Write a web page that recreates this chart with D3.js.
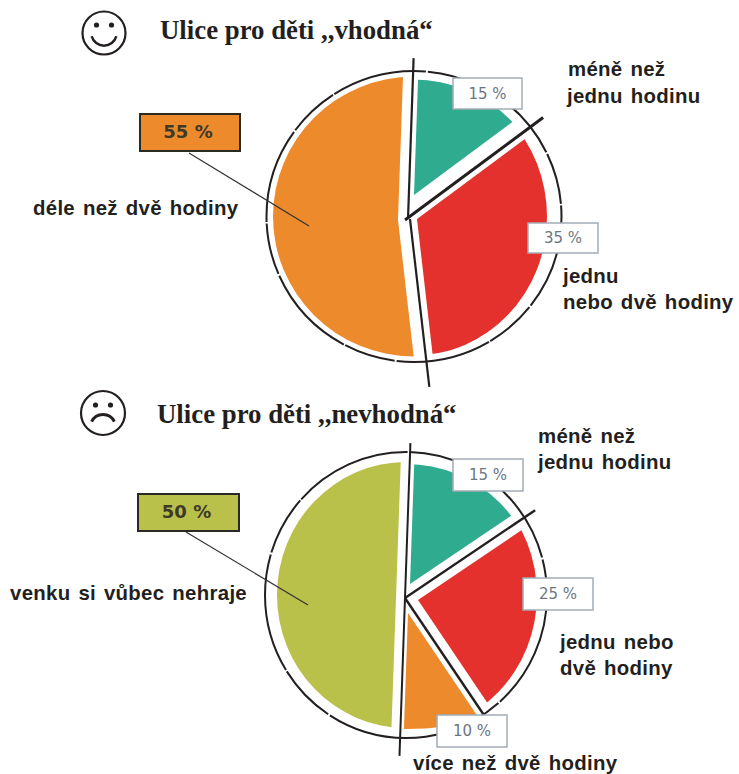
<!DOCTYPE html>
<html>
<head>
<meta charset="utf-8">
<script src="https://cdn.jsdelivr.net/npm/d3@7"></script>
<style>
  html, body { margin: 0; padding: 0; background: #fff; }
  svg { display: block; }
  .title { font-family: "Liberation Serif", serif; font-weight: bold; font-size: 26.8px; fill: #231f20; }
  .label { font-family: "Liberation Sans", sans-serif; font-weight: bold; font-size: 20.4px; fill: #231f20; word-spacing: 2px; letter-spacing: 0.3px; }
  .pct { font-family: "DejaVu Sans", sans-serif; font-size: 15px; fill: #6d7684; }
  .pct.strong { font-weight: bold; font-size: 18px; fill: #3f3a28; }
</style>
</head>
<body>
<svg width="739" height="774"></svg>
<script>
// values (first chart adds up to 105 in the original)
const suitableCategories = ['méně než jednu hodinu', 'jednu nebo dvě hodiny', 'déle než dvě hodiny'];
const suitableValues = [15, 35, 55];
const suitableColors = ['#2fac8f', '#e5312d', '#ed8a2b'];

const unsuitableCategories = ['méně než jednu hodinu', 'jednu nebo dvě hodiny', 'více než dvě hodiny', 'venku si vůbec nehraje'];
const unsuitableValues = [15, 25, 10, 50];
const unsuitableColors = ['#2fac8f', '#e5312d', '#ed8a2b', '#b9c14a'];

const svg = d3.select('svg');
const deg = Math.PI / 180;
const ink = '#231f20';

const render = (id, cats, values, colors, o) => {
    const g = svg.append('g');
    const pie = d3.pie().sort(null).value(d => d)
        .startAngle(o.start * deg).endAngle((o.start + 360) * deg);
    const arcs = pie(values);
    const wedge = d3.arc().innerRadius(0).outerRadius(320);

    // hand drawn outline
    g.append('ellipse')
        .attr('cx', o.cx).attr('cy', o.cy).attr('rx', o.rx).attr('ry', o.ry)
        .attr('fill', 'none').attr('stroke', ink).attr('stroke-width', 2)
        .attr('stroke-dasharray', o.dash);

    // slices are wedges from their own apex, cut by their own ellipse
    arcs.forEach((d, i) => {
        const s = o.slices[i];
        const clipId = `${id}-clip-${i}`;
        g.append('clipPath').attr('id', clipId)
            .append('ellipse')
            .attr('cx', o.cx).attr('cy', o.cy).attr('rx', s.rx).attr('ry', s.ry);
        g.append('g').attr('clip-path', `url(#${clipId})`)
            .append('path')
            .attr('transform', `translate(${s.apex[0]},${s.apex[1]})`)
            .attr('d', wedge(d))
            .attr('fill', colors[i])
            .append('title').text(cats[i]);
    });

    // spokes between the slices, each with its own start near the hub
    arcs.forEach((d, i) => {
        const sp = o.spokes[i];
        g.append('line')
            .attr('x1', sp.from[0]).attr('y1', sp.from[1])
            .attr('x2', sp.from[0] + sp.len * Math.sin(d.startAngle))
            .attr('y2', sp.from[1] - sp.len * Math.cos(d.startAngle))
            .attr('stroke', ink).attr('stroke-width', sp.w);
    });

    // leader from the big box into its slice
    g.append('line')
        .attr('x1', o.leader[0]).attr('y1', o.leader[1])
        .attr('x2', o.leader[2]).attr('y2', o.leader[3])
        .attr('stroke', '#333').attr('stroke-width', 1.2);

    // percent boxes
    o.boxes.forEach(b => {
        const i = b.i;
        g.append('rect')
            .attr('x', b.x).attr('y', b.y).attr('width', b.w).attr('height', b.h)
            .attr('fill', b.strong ? colors[i] : '#fff')
            .attr('stroke', b.strong ? '#2a2a24' : '#a3acb5')
            .attr('stroke-width', b.strong ? 2 : 1.5);
        g.append('text')
            .attr('class', b.strong ? 'pct strong' : 'pct')
            .attr('x', b.x + b.w / 2 + (b.strong ? -2 : 0)).attr('y', b.y + b.h / 2 + (b.strong ? 5 : 5))
            .attr('text-anchor', 'middle')
            .text(`${values[i]} %`);
    });

    g.append('text').attr('class', 'title')
        .attr('x', o.title.x).attr('y', o.title.y).text(o.title.text);

    o.labels.forEach(l => {
        g.append('text').attr('class', 'label').attr('x', l.x).attr('y', l.y).text(l.text);
    });

    // face next to the title
    const face = g.append('g').attr('transform', `translate(${o.face.x},${o.face.y})`)
        .attr('fill', 'none').attr('stroke', ink);
    face.append('circle').attr('r', o.face.r).attr('stroke-width', 2.2);
    [-7.5, 7.5].forEach(dx => {
        face.append('circle').attr('cx', dx).attr('cy', -8).attr('r', 2.6)
            .attr('fill', ink).attr('stroke', 'none');
    });
    const mouth = o.face.happy
        ? d3.arc()({ innerRadius: 11.5, outerRadius: 14, startAngle: 105 * deg, endAngle: 255 * deg })
        : d3.arc()({ innerRadius: 11, outerRadius: 14, startAngle: -65 * deg, endAngle: 65 * deg });
    face.append('path')
        .attr('transform', o.face.happy ? 'translate(0,0)' : 'translate(0,14)')
        .attr('d', mouth).attr('fill', ink).attr('stroke', 'none');
};

render('suitable', suitableCategories, suitableValues, suitableColors, {
    start: 2, cx: 414, cy: 216.5, rx: 147.5, ry: 145.5, dash: '96 2 52 1.5',
    spokes: [
        { from: [408, 219], len: 161, w: 2.2 },
        { from: [405, 220], len: 172, w: 3 },
        { from: [410, 219], len: 169, w: 2.2 }
    ],
    slices: [
        { apex: [414, 195], rx: 136, ry: 137 },
        { apex: [417, 219], rx: 133, ry: 139 },
        { apex: [398, 220], rx: 141, ry: 140 }
    ],
    leader: [189, 153, 309, 226],
    boxes: [
        { i: 0, x: 453, y: 78, w: 69, h: 31 },
        { i: 1, x: 528, y: 223, w: 70, h: 30 },
        { i: 2, x: 140, y: 114, w: 100, h: 37, strong: true }
    ],
    title: { x: 160, y: 39, text: 'Ulice pro děti ,,vhodná“' },
    labels: [
        { x: 568, y: 76, text: 'méně než' },
        { x: 567, y: 103, text: 'jednu hodinu' },
        { x: 563, y: 283, text: 'jednu' },
        { x: 563, y: 309, text: 'nebo dvě hodiny' },
        { x: 33, y: 215, text: 'déle než dvě hodiny' }
    ],
    face: { x: 104, y: 33, r: 21.5, happy: true }
});

render('unsuitable', unsuitableCategories, unsuitableValues, unsuitableColors, {
    start: 2, cx: 406, cy: 595, rx: 141, ry: 143, dash: '120 2 60 1.5',
    spokes: [
        { from: [405, 598], len: 155, w: 2 },
        { from: [405, 598], len: 157, w: 2.4 },
        { from: [405, 598], len: 142, w: 2.4 },
        { from: [405, 598], len: 158, w: 2 }
    ],
    slices: [
        { apex: [410, 584], rx: 132, ry: 131 },
        { apex: [418, 600], rx: 131, ry: 137 },
        { apex: [408, 613], rx: 200, ry: 134 },
        { apex: [396, 598], rx: 129, ry: 133 }
    ],
    leader: [186, 532, 308, 605],
    boxes: [
        { i: 0, x: 453, y: 459, w: 70, h: 32 },
        { i: 1, x: 523, y: 578, w: 70, h: 32 },
        { i: 2, x: 437, y: 715, w: 70, h: 32 },
        { i: 3, x: 138, y: 494, w: 101, h: 37, strong: true }
    ],
    title: { x: 157, y: 423, text: 'Ulice pro děti ,,nevhodná“' },
    labels: [
        { x: 538, y: 443, text: 'méně než' },
        { x: 538, y: 469, text: 'jednu hodinu' },
        { x: 560, y: 649, text: 'jednu nebo' },
        { x: 560, y: 675, text: 'dvě hodiny' },
        { x: 413, y: 770, text: 'více než dvě hodiny' },
        { x: 10, y: 600, text: 'venku si vůbec nehraje' }
    ],
    face: { x: 103, y: 413, r: 22, happy: false }
});
</script>
</body>
</html>
